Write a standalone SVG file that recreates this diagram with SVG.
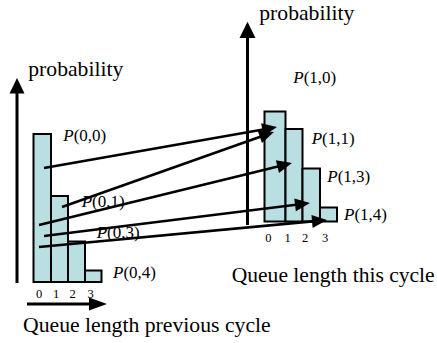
<svg xmlns="http://www.w3.org/2000/svg" width="437" height="343" viewBox="0 0 437 343">
<style>
.bar{fill:#BADFE2;stroke:#000;stroke-width:2}
.axis{stroke:#000;stroke-width:3;fill:none}
.head{fill:#000;stroke:none}
.big{font-family:"Liberation Serif","Times New Roman",serif;font-size:21.5px;fill:#000}
.pl{font-family:"Liberation Serif","Times New Roman",serif;font-size:17px;fill:#000}
.pl .it{font-style:italic}
.tick{font-family:"Liberation Serif","Times New Roman",serif;font-size:12.5px;fill:#000;text-anchor:middle}
.conn{stroke:#000;stroke-width:2.6;fill:none;marker-end:url(#ah)}
</style>
<defs>
<marker id="ah" markerUnits="userSpaceOnUse" markerWidth="16" markerHeight="14" refX="11" refY="6.5" orient="auto" overflow="visible">
<path d="M0,0 L15,6.5 L0,13 z" fill="#000"/>
</marker>
</defs>
<rect width="437" height="343" fill="#fff"/>
<g id="left-chart">
<line class="axis" x1="17" y1="283" x2="17" y2="90"/>
<polygon class="head" points="17,78 9.5,93.5 24.5,93.5"/>
<line class="axis" x1="27" y1="304" x2="92" y2="304"/>
<polygon class="head" points="107,304 89,297.5 89,310.5"/>
<text class="big" x="28.3" y="76" textLength="95" lengthAdjust="spacingAndGlyphs">probability</text>
<text class="big" x="23" y="331.7" textLength="247.7" lengthAdjust="spacingAndGlyphs">Queue length previous cycle</text>
<text class="tick" x="39" y="297.7">0</text>
<text class="tick" x="56" y="297.7">1</text>
<text class="tick" x="72.7" y="297.7">2</text>
<text class="tick" x="90.7" y="297.7">3</text>
</g>
<g id="bar-0-0"><rect class="bar" x="33.5" y="134" width="17.5" height="148"/><text class="pl" x="63.3" y="141"><tspan class="it">P</tspan>(0,0)</text></g>
<g id="bar-0-1"><rect class="bar" x="51" y="196" width="17" height="86"/><text class="pl" x="81.7" y="207"><tspan class="it">P</tspan>(0,1)</text></g>
<g id="bar-0-2"><rect class="bar" x="68" y="241.5" width="17" height="40.5"/><text class="pl" x="96.7" y="238"><tspan class="it">P</tspan>(0,3)</text></g>
<g id="bar-0-3"><rect class="bar" x="85" y="270.5" width="16.5" height="11.5"/><text class="pl" x="113" y="278"><tspan class="it">P</tspan>(0,4)</text></g>
<g id="right-chart">
<line class="axis" x1="247.5" y1="225" x2="247.5" y2="34"/>
<polygon class="head" points="247.5,21.7 239.5,38 255.5,38"/>
<text class="big" x="259.3" y="20" textLength="95" lengthAdjust="spacingAndGlyphs">probability</text>
<text class="big" x="231.7" y="281.7" textLength="203" lengthAdjust="spacingAndGlyphs">Queue length this cycle</text>
<text class="tick" x="268.3" y="241.7">0</text>
<text class="tick" x="287.7" y="241.7">1</text>
<text class="tick" x="305" y="241.7">2</text>
<text class="tick" x="325" y="241.7">3</text>
<text class="pl" x="293.3" y="83"><tspan class="it">P</tspan>(1,0)</text>
</g>
<g id="bar-1-0"><rect class="bar" x="264.5" y="111.5" width="21" height="110"/></g>
<g id="bar-1-1"><rect class="bar" x="285.5" y="129" width="17" height="92.5"/><text class="pl" x="311.7" y="143.5"><tspan class="it">P</tspan>(1,1)</text></g>
<g id="bar-1-2"><rect class="bar" x="302.5" y="168.5" width="17.5" height="53"/><text class="pl" x="327.3" y="181.7"><tspan class="it">P</tspan>(1,3)</text></g>
<g id="bar-1-3"><rect class="bar" x="320" y="207.5" width="17" height="14"/><text class="pl" x="344" y="220"><tspan class="it">P</tspan>(1,4)</text></g>
<g id="connectors">
<line class="conn" x1="44" y1="168" x2="273.1" y2="127.7"/>
<line class="conn" x1="62" y1="207" x2="270.2" y2="133.3"/>
<line class="conn" x1="39" y1="225" x2="288.1" y2="164"/>
<line class="conn" x1="44" y1="236" x2="306" y2="203.5"/>
<line class="conn" x1="39" y1="247" x2="323" y2="220.4"/>
</g>
</svg>
